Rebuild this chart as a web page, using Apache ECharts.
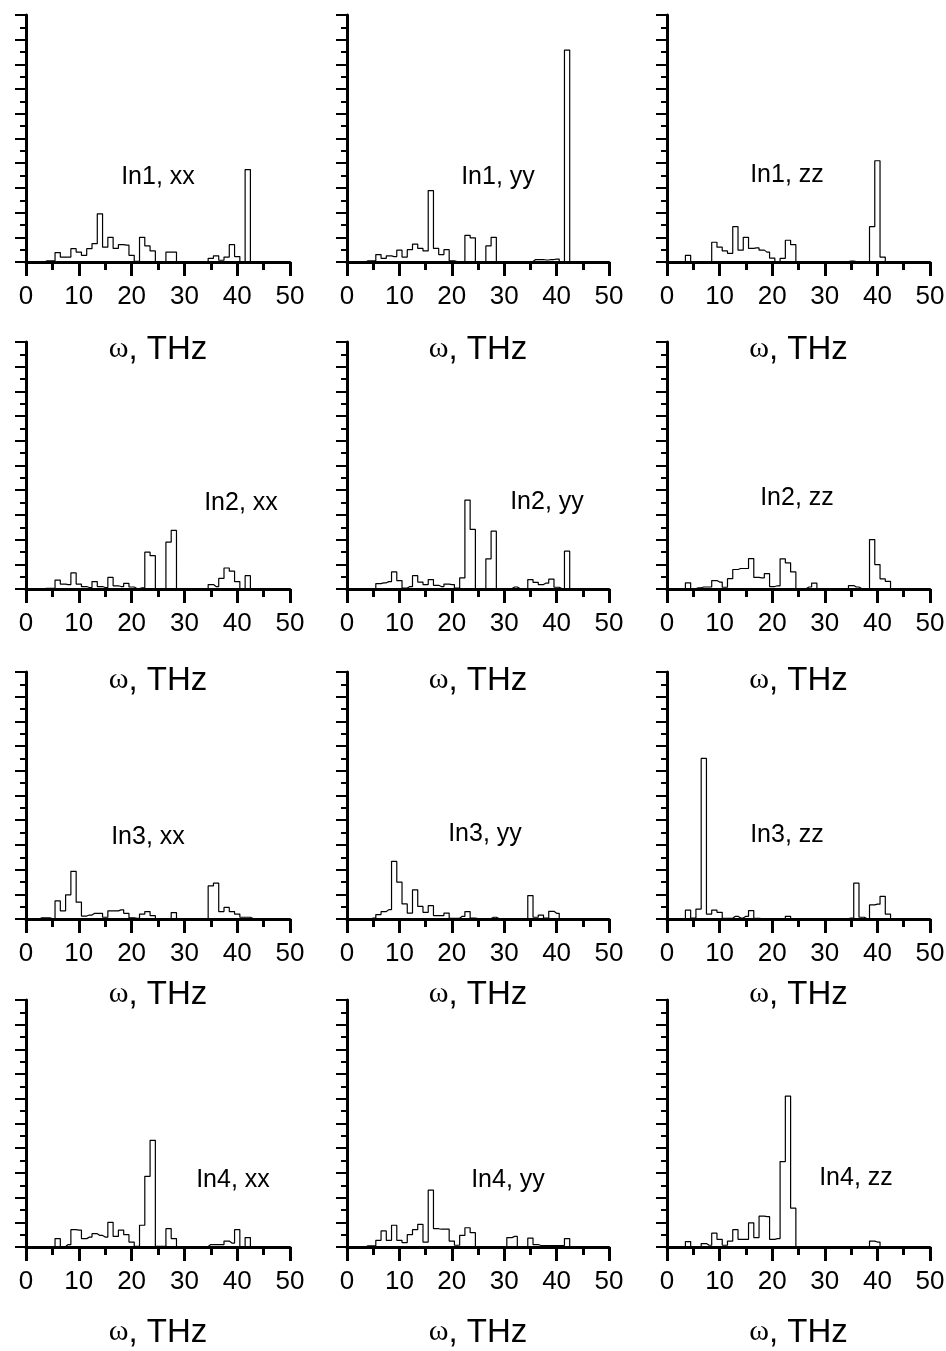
<!DOCTYPE html>
<html>
<head>
<meta charset="utf-8">
<script src="https://cdn.jsdelivr.net/npm/echarts@6/dist/echarts.min.js"></script>
<style>
  html, body { margin: 0; padding: 0; background: #fff; }
  #chart { width: 946px; height: 1351px; }
</style>
</head>
<body>
<div id="chart"></div>
<script>
// bin centres, THz
const omega = [0,1,2,3,4,5,6,7,8,9,10,11,12,13,14,15,16,17,18,19,20,21,22,23,24,25,26,27,28,29,30,31,32,33,34,35,36,37,38,39,40,41,42,43,44,45,46,47,48,49,50];
const xTicks = [0, 10, 20, 30, 40, 50];

// density of states, in units of one major y tick
const in1xx = [0,0,0,0,0.05,0.05,0.38,0.2,0.2,0.54,0.4,0.27,0.54,0.74,1.95,0.6,1.0,0.55,0.7,0.68,0.27,0.03,1.0,0.65,0.45,0.02,0.02,0.4,0.4,0.02,0.02,0.02,0.02,0.02,0.02,0.15,0.25,0.07,0.2,0.7,0.22,0,3.74,0.02,0.02,0.02,0.02,0,0,0,0];
const in1yy = [0,0,0,0,0.05,0.05,0.3,0.15,0.25,0.22,0.48,0.2,0.5,0.72,0.55,0.45,2.89,0.55,0.3,0.5,0.05,0.02,0.02,1.08,0.98,0.02,0.02,0.65,1.0,0.02,0.02,0.02,0.02,0.02,0.02,0.02,0.1,0.1,0.08,0.1,0.12,0.02,8.58,0.02,0,0,0,0,0,0,0];
const in1zz = [0,0,0,0,0.27,0.02,0.02,0.02,0.02,0.8,0.6,0.45,0.35,1.43,0.48,1.0,0.55,0.57,0.48,0.4,0.16,0.02,0.15,0.88,0.7,0.02,0.02,0.02,0.02,0.02,0.02,0.02,0.02,0.02,0.02,0.04,0.02,0.02,0.02,1.43,4.1,0.2,0.02,0,0,0,0,0,0,0,0];
const in2xx = [0,0,0,0.02,0.03,0.03,0.36,0.2,0.18,0.65,0.2,0.1,0.06,0.3,0.1,0.06,0.47,0.13,0.1,0.23,0.08,0.02,0.05,1.49,1.35,0.02,0.02,1.9,2.37,0.02,0.02,0.02,0.02,0.02,0.02,0.18,0.1,0.43,0.85,0.72,0.3,0,0.54,0.02,0.02,0.02,0.02,0,0,0,0];
const in2yy = [0,0,0,0,0.02,0.02,0.22,0.25,0.3,0.69,0.34,0.04,0.1,0.54,0.28,0.18,0.38,0.15,0.1,0.2,0.18,0.04,0.45,3.6,2.41,0.02,0.02,1.22,2.34,0.02,0.02,0.02,0.08,0.02,0.02,0.38,0.27,0.18,0.24,0.4,0.07,0.02,1.53,0.02,0.02,0.02,0,0,0,0,0];
const in2zz = [0,0,0,0.02,0.25,0.02,0.05,0.08,0.08,0.34,0.28,0.07,0.42,0.79,0.83,0.83,1.23,0.47,0.45,0.62,0.1,0.13,1.22,1.06,0.69,0.02,0.02,0.08,0.24,0.02,0.02,0.02,0.02,0.02,0.02,0.14,0.08,0.02,0.02,2.0,0.99,0.41,0.31,0.02,0.02,0.02,0.02,0,0,0,0];
const in3xx = [0,0,0,0.05,0.05,0.02,0.73,0.33,0.98,1.93,0.68,0.12,0.16,0.23,0.23,0.07,0.33,0.33,0.37,0.23,0.05,0.03,0.2,0.3,0.14,0.02,0.02,0.02,0.26,0.02,0.02,0.02,0.02,0.02,0.02,1.34,1.45,0.3,0.47,0.3,0.2,0.07,0.07,0.02,0.02,0.02,0.02,0,0,0,0];
const in3yy = [0,0,0,0,0,0.04,0.18,0.3,0.38,2.33,1.49,0.61,0.24,1.18,0.51,0.27,0.54,0.14,0.14,0.24,0.03,0.03,0.11,0.3,0.04,0.02,0.02,0.02,0.07,0.02,0.02,0.02,0.02,0.02,0.02,0.95,0.07,0.16,0.04,0.31,0.23,0.02,0,0,0,0,0,0,0,0,0];
const in3zz = [0,0,0,0,0.36,0.04,0.4,6.5,0.2,0.36,0.27,0.03,0.03,0.11,0.04,0.11,0.34,0.03,0.02,0.02,0.02,0.02,0.02,0.11,0.02,0.02,0.02,0.02,0.02,0.02,0.02,0.02,0.02,0.02,0.02,0.04,1.45,0.07,0.02,0.57,0.6,0.92,0.2,0.02,0,0,0,0,0,0,0];
const in4xx = [0,0,0,0,0,0.02,0.34,0.02,0.1,0.7,0.68,0.34,0.4,0.54,0.47,0.4,1.0,0.43,0.68,0.5,0.2,0.03,0.88,2.86,4.32,0.03,0.03,0.74,0.34,0.02,0.02,0.02,0.02,0.02,0.02,0.1,0.1,0.1,0.24,0.16,0.7,0.02,0.38,0.02,0,0,0,0,0,0,0];
const in4yy = [0,0,0,0,0.05,0.05,0.27,0.65,0.27,0.88,0.27,0.18,0.5,0.7,0.92,0.2,2.3,0.74,0.72,0.72,0.24,0.07,0.47,0.78,0.58,0.02,0.02,0.02,0.02,0.02,0.02,0.38,0.43,0.02,0.02,0.36,0.1,0.06,0.06,0.06,0.06,0.06,0.34,0.02,0,0,0,0,0,0,0];
const in4zz = [0,0,0,0,0.22,0.02,0.02,0.14,0.07,0.56,0.31,0.07,0.24,0.7,0.31,0.31,0.98,0.38,1.25,1.23,0.31,0.34,3.46,6.11,1.57,0.02,0.02,0.02,0.02,0.02,0.02,0.02,0.02,0.02,0.02,0.02,0.02,0.02,0.02,0.24,0.2,0.02,0.02,0.02,0,0,0,0,0,0,0];

const panelNames = ['In1, xx','In1, yy','In1, zz','In2, xx','In2, yy','In2, zz','In3, xx','In3, yy','In3, zz','In4, xx','In4, yy','In4, zz'];
const panelData = [in1xx, in1yy, in1zz, in2xx, in2yy, in2zz, in3xx, in3yy, in3zz, in4xx, in4yy, in4zz];

// layout
const colLeft = [26, 347, 667];
const colWidth = [264, 262, 263];
const rowTop = [15, 342, 672, 1000];
const plotHeight = 247;
const nameGaps = [71, 75, 59, 69];
// label centres
const labelPos = [[158,177],[498,177],[787,175],[241,503],[547,502],[797,498],[148,837],[485,834],[787,835],[233,1180],[508,1180],[856,1178]];

const sans = "'Liberation Sans', Arial, sans-serif";

const grids = [], xAxes = [], yAxes = [], series = [], graphics = [];
for (let i = 0; i < 12; i++) {
  const r = Math.floor(i / 3), c = i % 3;
  grids.push({ left: colLeft[c], top: rowTop[r], width: colWidth[c], height: plotHeight, outerBoundsMode: 'none' });
  xAxes.push({
    gridIndex: i, type: 'value', min: 0, max: 50, interval: 10,
    name: '{w|\u03c9}{t|, THz}', nameLocation: 'middle', nameGap: nameGaps[r],
    nameTextStyle: {
      rich: {
        w: { fontFamily: "'Liberation Serif', 'Times New Roman', serif", fontSize: 30, color: '#000' },
        t: { fontFamily: sans, fontSize: 33, color: '#000' }
      }
    },
    axisLine: { onZero: false, lineStyle: { color: '#000', width: 3 } },
    axisTick: { length: 14, lineStyle: { color: '#000', width: 3 } },
    minorTick: { show: true, splitNumber: 2, length: 8, lineStyle: { color: '#000', width: 3 } },
    splitLine: { show: false },
    axisLabel: { color: '#000', fontFamily: sans, fontSize: 26, margin: 22,
      formatter: v => xTicks.includes(v) ? String(v) : '' }
  });
  yAxes.push({
    gridIndex: i, type: 'value', min: 0, max: 10, interval: 1,
    axisLine: { lineStyle: { color: '#000', width: 3 } },
    axisTick: { show: true, length: 11, lineStyle: { color: '#000', width: 2 } },
    minorTick: { show: true, splitNumber: 2, length: 6, lineStyle: { color: '#000', width: 2 } },
    axisLabel: { show: false },
    splitLine: { show: false }
  });
  series.push({
    type: 'line', xAxisIndex: i, yAxisIndex: i, step: 'middle', symbol: 'none',
    lineStyle: { color: '#000', width: 1.2 },
    data: omega.map((w, k) => [w, panelData[i][k]]),
    z: 1
  });
  graphics.push({
    type: 'text', x: labelPos[i][0], y: labelPos[i][1],
    style: { text: panelNames[i], font: "25px " + sans, fill: '#000', textAlign: 'center', textVerticalAlign: 'middle' }
  });
}

const chart = echarts.init(document.getElementById('chart'), null, { renderer: 'canvas' });
chart.setOption({
  animation: false,
  backgroundColor: '#fff',
  grid: grids, xAxis: xAxes, yAxis: yAxes, series: series,
  graphic: graphics
});
</script>
</body>
</html>
